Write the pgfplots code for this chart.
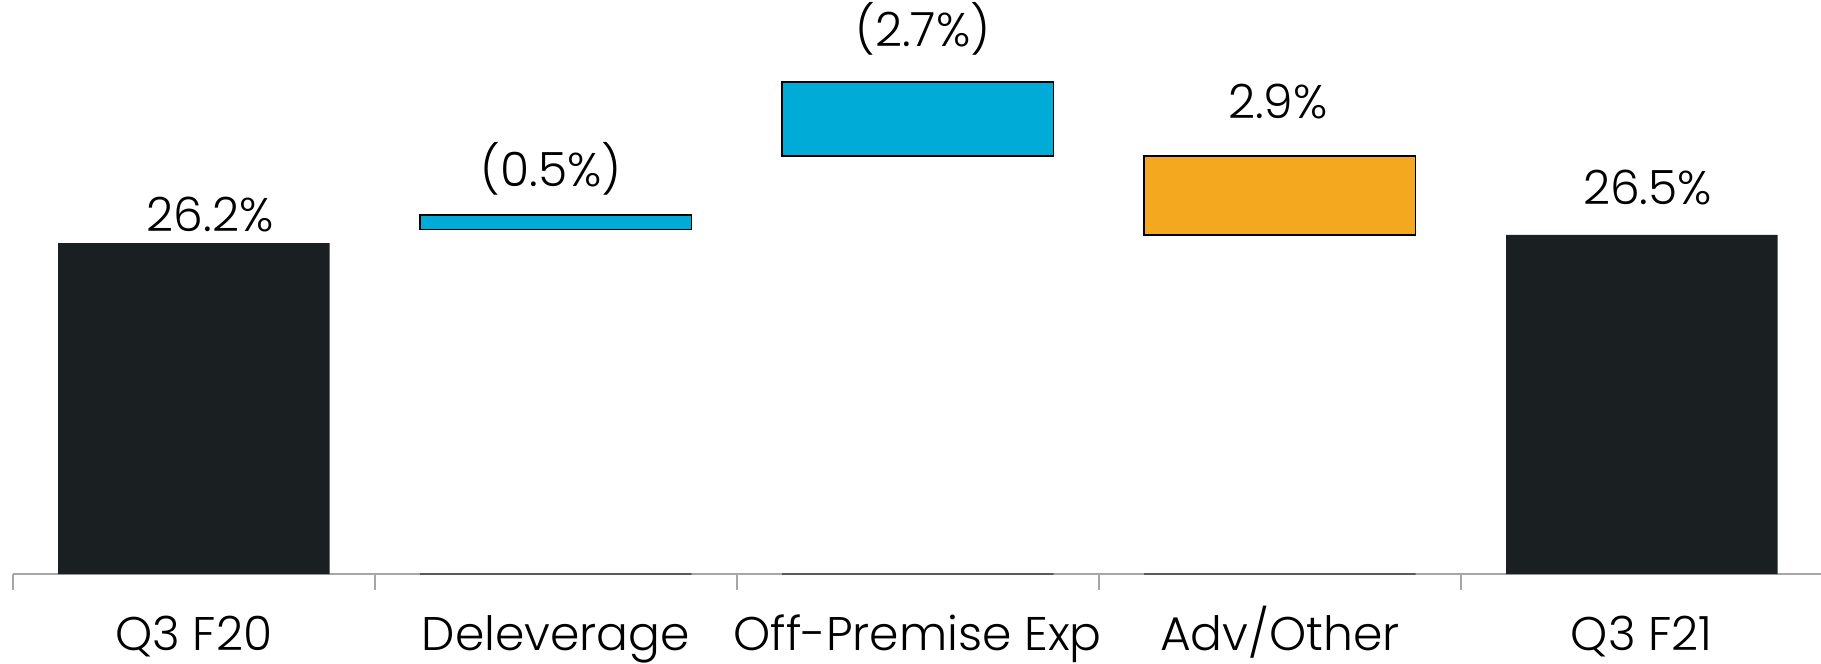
\documentclass[border=0pt]{standalone}
\usepackage{fontspec}
\setmainfont{Poppins}[UprightFont=* Light]
\usepackage{pgfplots}
\pgfplotsset{compat=1.18}

\definecolor{barDark}{HTML}{1A1F22}
\definecolor{barCyan}{HTML}{00ACD7}
\definecolor{barOrange}{HTML}{F4A820}
\definecolor{axisGray}{HTML}{A6A6A6}
\definecolor{baseGray}{HTML}{5A5A5A}

\begin{document}
\begin{tikzpicture}[font=\fontsize{11.8}{14}\selectfont]
\begin{axis}[
  scale only axis,
  width=452.5pt, height=143.5pt,
  xmin=-0.5, xmax=4.5,
  ymin=0, ymax=45.45,
  clip=false,
  axis x line=bottom,
  axis y line=none,
  x axis line style={-, draw=axisGray, line width=0.5pt},
  xtick={0,...,4},
  xticklabels={Q3 F20, Deleverage, Off-Premise Exp, Adv/Other, Q3 F21},
  major tick length=0pt,
  xticklabel style={anchor=base, yshift=-19.2pt, inner sep=0pt},
  extra x ticks={-0.5,0.5,1.5,2.5,3.5},
  extra x tick labels={},
  extra x tick style={major tick length=4pt, tick align=outside,
    tick style={draw=axisGray, line width=0.4pt}},
]

% totals
\addplot[ybar, bar width=0.75, fill=barDark, draw=none]
  coordinates {(0,26.2) (4,26.85)};

% base edge of the floating bars
\addplot[ybar, bar width=0.75, fill=none, draw=baseGray, line width=0.6pt]
  coordinates {(1,0) (2,0) (3,0)};

% floating steps
\addplot[fill=barCyan, draw=black, line width=0.4pt]
  coordinates {(0.625,27.29) (1.375,27.29) (1.375,28.42) (0.625,28.42)} -- cycle;
\addplot[fill=barCyan, draw=black, line width=0.4pt]
  coordinates {(1.625,33.12) (2.375,33.12) (2.375,38.98) (1.625,38.98)} -- cycle;
\addplot[fill=barOrange, draw=black, line width=0.4pt]
  coordinates {(2.625,26.86) (3.375,26.86) (3.375,33.12) (2.625,33.12)} -- cycle;

% value labels
\node[anchor=base, inner sep=0pt] at (axis cs:0.045,27.10) {26.2\%};
\node[anchor=base, inner sep=0pt] at (axis cs:0.987,30.67) {(0.5\%)};
\node[anchor=base, inner sep=0pt] at (axis cs:2.014,41.75) {(2.7\%)};
\node[anchor=base, inner sep=0pt] at (axis cs:2.995,36.03) {2.9\%};
\node[anchor=base, inner sep=0pt] at (axis cs:4.016,29.22) {26.5\%};

\coordinate (bbsw) at (axis cs:-0.5354,-7.126);
\coordinate (bbne) at (axis cs:4.4950,45.45);
\end{axis}
\pgfresetboundingbox
\path[use as bounding box] (bbsw) rectangle (bbne);
\end{tikzpicture}
\end{document}
